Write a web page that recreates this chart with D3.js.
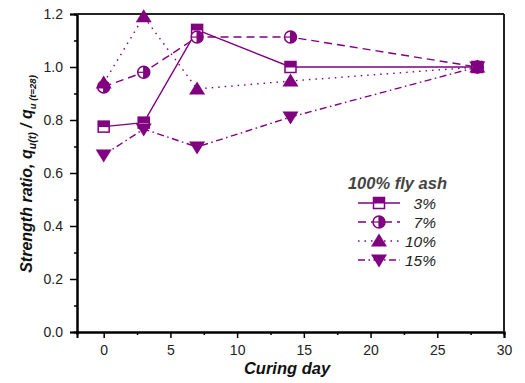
<!DOCTYPE html>
<html><head><meta charset="utf-8">
<script src="https://cdn.jsdelivr.net/npm/d3@7"></script>
<style>body{margin:0;background:#fff}svg{display:block;font-family:Arial,"Liberation Sans",sans-serif}</style>
</head><body><svg id="c" width="525" height="383"></svg>
<script>
const days = [0, 3, 7, 14, 28];
const series = ["3%", "7%", "10%", "15%"];
const s3 = [0.775, 0.79, 1.14, 1.0, 1.0];
const s7 = [0.925, 0.98, 1.113, 1.113, 1.0];
const s10 = [0.94, 1.19, 0.917, 0.947, 1.0];
const s15 = [0.668, 0.766, 0.698, 0.811, 1.0];
const xTicks = [0, 5, 10, 15, 20, 25, 30];
const yTicks = [0.0, 0.2, 0.4, 0.6, 0.8, 1.0, 1.2];
const legendTitle = "100% fly ash";

const color = "#800080";
const svg = d3.select("#c");
const x = d3.scaleLinear().domain([-2, 30]).range([77, 504]);
const y = d3.scaleLinear().domain([0, 1.2]).range([332, 14]);

// axes
const xAx = svg.append("g").attr("transform", "translate(0,332)")
  .call(d3.axisBottom(x).tickValues(xTicks).tickSize(6).tickPadding(7).tickFormat(d3.format("d")));
const xMin = svg.append("g").attr("transform", "translate(0,332)")
  .call(d3.axisBottom(x).tickValues(d3.range(2.5, 30, 5)).tickSize(3).tickFormat(""));
const yAx = svg.append("g").attr("transform", "translate(77,0)")
  .call(d3.axisLeft(y).tickValues(yTicks).tickSize(7).tickPadding(7).tickFormat(d3.format(".1f")));
const yMin = svg.append("g").attr("transform", "translate(77,0)")
  .call(d3.axisLeft(y).tickValues(d3.range(0.1, 1.2, 0.2)).tickSize(3).tickFormat(""));
[xAx, xMin, yAx, yMin].forEach(g => {
  g.select(".domain").attr("stroke", "#000").attr("stroke-width", 2);
  g.selectAll(".tick line").attr("stroke", "#000").attr("stroke-width", 1.5);
  g.selectAll("text").attr("font-size", 14).attr("fill", "#222").attr("font-family", "Arial,'Liberation Sans',sans-serif");
});
// frame top/right
svg.append("line").attr("x1", 77).attr("x2", 504).attr("y1", 14).attr("y2", 14).attr("stroke", "#222").attr("stroke-width", 2);
svg.append("line").attr("x1", 504).attr("x2", 504).attr("y1", 14).attr("y2", 332).attr("stroke", "#222").attr("stroke-width", 2);

// labels
svg.append("text").attr("x", 287).attr("y", 374).attr("text-anchor", "middle")
  .attr("font-size", 16.5).attr("font-weight", "bold").attr("font-style", "italic").attr("fill", "#111").text("Curing day");
const yl = svg.append("text").attr("transform", "translate(32,174) rotate(-90)").attr("text-anchor", "middle")
  .attr("font-size", 16).attr("font-weight", "bold").attr("font-style", "italic").attr("fill", "#111");
yl.append("tspan").text("Strength ratio,  q");
yl.append("tspan").attr("font-size", 10.5).attr("dy", 4).text("u(t)");
yl.append("tspan").attr("dy", -4).text(" / q");
yl.append("tspan").attr("font-size", 9.5).attr("dy", 4).text("u (t=28)");

const data = [s3, s7, s10, s15];
const dashes = [null, "8,5", "1.5,5", "7,3.5,1.5,3.5"];
const line = d3.line().x((d, i) => x(days[i])).y(d => y(d));

function marker(g, k, cx, cy) {
  const gg = g.append("g").attr("transform", `translate(${cx},${cy})`);
  if (k === 0) {
    gg.append("rect").attr("x", -5.5).attr("y", -5.5).attr("width", 11).attr("height", 11).attr("fill", "#fff").attr("stroke", color).attr("stroke-width", 1.5);
    gg.append("rect").attr("x", -5.5).attr("y", -5.5).attr("width", 11).attr("height", 6).attr("fill", color);
  } else if (k === 1) {
    gg.append("circle").attr("r", 6).attr("fill", "#fff").attr("stroke", color).attr("stroke-width", 1.5);
    gg.append("path").attr("d", d3.arc()({innerRadius: 0, outerRadius: 6, startAngle: 0, endAngle: Math.PI})).attr("fill", color);
    gg.append("line").attr("x1", -6).attr("x2", 6).attr("stroke", color).attr("stroke-width", 1.2);
    gg.append("line").attr("y1", -6).attr("y2", 6).attr("stroke", color).attr("stroke-width", 1.2);
  } else if (k === 2) {
    gg.append("path").attr("d", "M0,-7.5L8,5.5L-8,5.5Z").attr("fill", color);
  } else {
    gg.append("path").attr("d", "M0,7.5L8,-5.5L-8,-5.5Z").attr("fill", color);
  }
}

data.forEach((vals, k) => {
  svg.append("path").attr("d", line(vals)).attr("fill", "none").attr("stroke", color)
    .attr("stroke-width", 1.4).attr("stroke-dasharray", dashes[k]);
});
data.forEach((vals, k) => {
  vals.forEach((v, i) => marker(svg, k, x(days[i]), y(v)));
});

// legend
svg.append("text").attr("x", 447).attr("y", 189).attr("text-anchor", "end")
  .attr("font-size", 16.5).attr("font-weight", "bold").attr("font-style", "italic").attr("fill", "#444").text(legendTitle);
series.forEach((s, k) => {
  const yy = 203 + k * 19;
  svg.append("line").attr("x1", 358).attr("x2", 400).attr("y1", yy).attr("y2", yy).attr("stroke", color)
    .attr("stroke-width", 1.4).attr("stroke-dasharray", dashes[k]);
  marker(svg, k, 379, yy);
  svg.append("text").attr("x", 436).attr("y", yy + 5.5).attr("text-anchor", "end")
    .attr("font-size", 15.5).attr("font-style", "italic").attr("fill", "#222").text(s);
});
</script></body></html>
